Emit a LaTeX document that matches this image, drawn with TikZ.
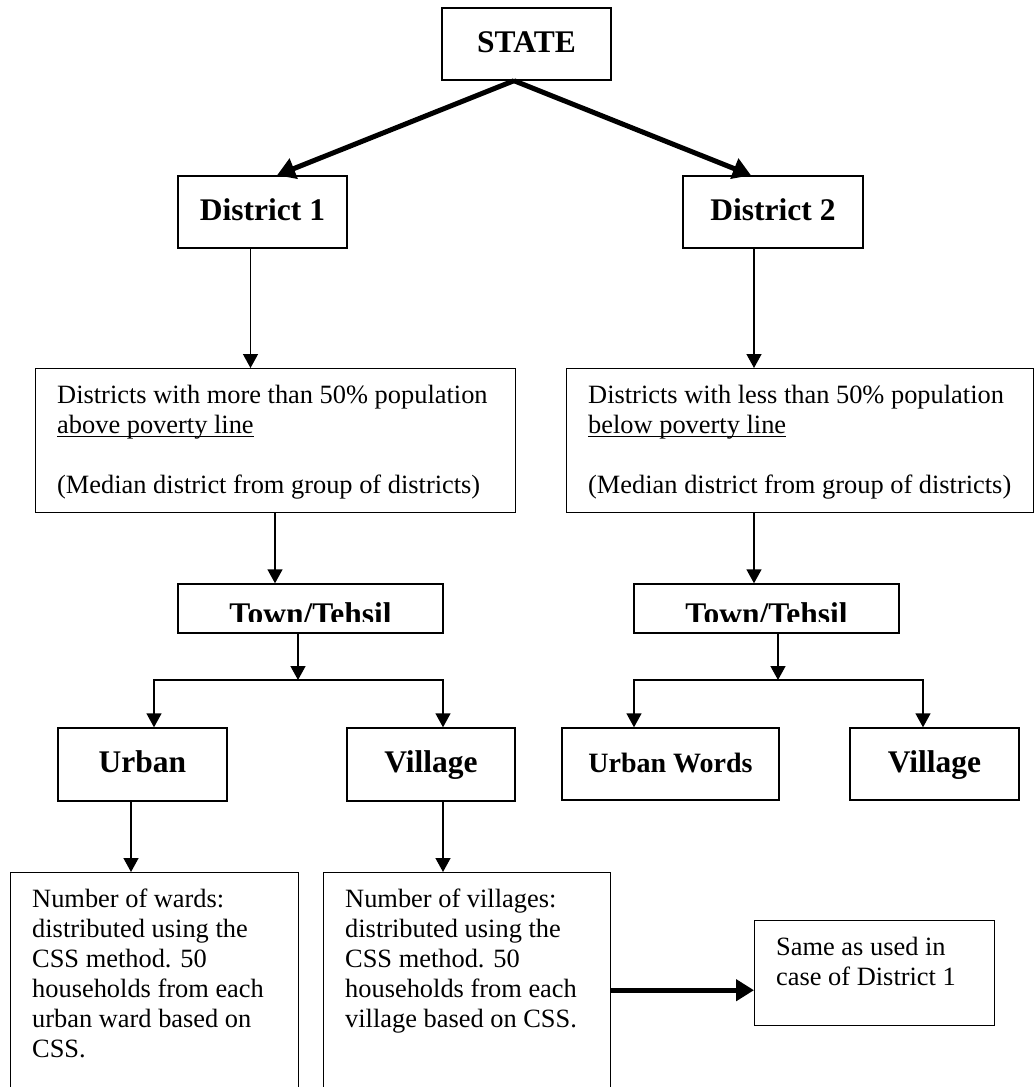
\documentclass[tikz,border=0pt]{standalone}
\usepackage{fontspec}
\setmainfont{Liberation Serif}
\usetikzlibrary{arrows.meta}
\newlength{\ulwd}
\newcommand{\ulined}[1]{\settowidth{\ulwd}{#1}\rlap{\rule[-4pt]{\ulwd}{1.4pt}}#1}
\tikzset{
  box/.style={draw, line width=1.4pt, inner sep=0pt},
  head/.style={font=\fontsize{31.5pt}{36pt}\selectfont\bfseries, text height=22pt, text depth=6pt},
  txt/.style={font=\fontsize{26.4pt}{30pt}\selectfont, align=left, inner sep=0pt, anchor=north west},
  arr/.style={-{Triangle[width=15pt,length=14pt]}, line width=1.4pt},
  tharr/.style={-{Triangle[width=21pt,length=18pt]}, line width=5pt}
}
\begin{document}
\begin{tikzpicture}[x=1pt,y=-1pt]
\clip (0,0) rectangle (1036,1087);
\node[box, head, minimum width=169pt, minimum height=72pt] (state) at (526.5,44) {STATE};
\node[box, head, minimum width=169pt, minimum height=72pt] (dist1) at (262.5,212) {District 1};
\node[box, head, minimum width=180pt, minimum height=72pt] (dist2) at (773,212) {District 2};
\draw[tharr] ([xshift=-12.5pt]state.south) -- ([xshift=14.5pt]dist1.north);
\draw[tharr] ([xshift=-12.5pt]state.south) -- ([xshift=-22pt]dist2.north);
% poverty groups
\node[box, anchor=north west, minimum width=480pt, minimum height=144pt] (big1) at (35,368) {};
\node[txt] (big1text) at ([xshift=22pt]big1.north west) {\rule{0pt}{35pt}Districts with more than 50\% population\\ \ulined{above poverty line}\\[30pt] (Median district from group of districts)};
\node[box, anchor=north west, minimum width=467pt, minimum height=144pt] (big2) at (566,368) {};
\node[txt] (big2text) at ([xshift=22pt]big2.north west) {\rule{0pt}{35pt}Districts with less than 50\% population\\ \ulined{below poverty line}\\[30pt] (Median district from group of districts)};
\draw[arr] ([xshift=-12pt]dist1.south) -- ([xshift=-12pt]dist1.south |- big1.north);
\draw[arr] ([xshift=-19pt]dist2.south) -- ([xshift=-19pt]dist2.south |- big2.north);
% town / tehsil
\node[box, minimum width=265pt, minimum height=49pt] (town1) at (310.5,608.5) {};
\node[box, minimum width=265pt, minimum height=49pt] (town2) at (766.5,608.5) {};
\begin{scope}
\clip (178,584) rectangle (899,621);
\node[head, anchor=base] (town1text) at (310.5,624) {Town/Tehsil};
\node[head, anchor=base] (town2text) at (766.5,624) {Town/Tehsil};
\end{scope}
\draw[arr] ([xshift=-35.5pt]town1.north |- big1.south) -- ([xshift=-35.5pt]town1.north);
\draw[arr] ([xshift=-12.5pt]town2.north |- big2.south) -- ([xshift=-12.5pt]town2.north);
\coordinate (j1) at (298,680);
\coordinate (j2) at (778,680);
\node[box, head, minimum width=169pt, minimum height=73pt] (urban1) at (142.5,764.5) {Urban};
\node[box, head, minimum width=168pt, minimum height=73pt] (village1) at (431,764.5) {Village};
\node[box, head, font=\fontsize{28pt}{32pt}\selectfont\bfseries, minimum width=217pt, minimum height=72pt] (urban2) at (670.5,764) {Urban Words};
\node[box, head, minimum width=169pt, minimum height=72pt] (village2) at (934.5,764) {Village};
\draw[arr] (town1.south -| j1) -- (j1);
\draw[arr] (j1) -| ([xshift=11.5pt]urban1.north);
\draw[arr] (j1) -| ([xshift=12pt]village1.north);
\draw[arr] (town2.south -| j2) -- (j2);
\draw[arr] (j2) -| ([xshift=-36.5pt]urban2.north);
\draw[arr] (j2) -| ([xshift=-11.5pt]village2.north);
% sampling
\node[box, anchor=north west, minimum width=288pt, minimum height=260pt] (wards) at (10,872) {};
\node[txt] (wardstext) at ([xshift=22pt]wards.north west) {\rule{0pt}{35pt}Number of wards:\\ distributed using the\\ CSS method. 50\\ households from each\\ urban ward based on\\ CSS.};
\node[box, anchor=north west, minimum width=287pt, minimum height=260pt] (villages) at (323,872) {};
\node[txt] (villagestext) at ([xshift=22pt]villages.north west) {\rule{0pt}{35pt}Number of villages:\\ distributed using the\\ CSS method. 50\\ households from each\\ village based on CSS.};
\draw[arr] ([xshift=-11.5pt]urban1.south) -- ([xshift=-11.5pt]urban1.south |- wards.north);
\draw[arr] ([xshift=12pt]village1.south) -- ([xshift=12pt]village1.south |- villages.north);
\node[box, anchor=north west, minimum width=240pt, minimum height=105pt] (same) at (754,920) {};
\node[txt] (sametext) at ([xshift=22pt]same.north west) {\rule{0pt}{35pt}Same as used in\\ case of District 1};
\coordinate (sameat) at ([yshift=-17pt]same.west);
\draw[tharr] (sameat -| villages.east) -- (sameat);
\end{tikzpicture}
\end{document}
